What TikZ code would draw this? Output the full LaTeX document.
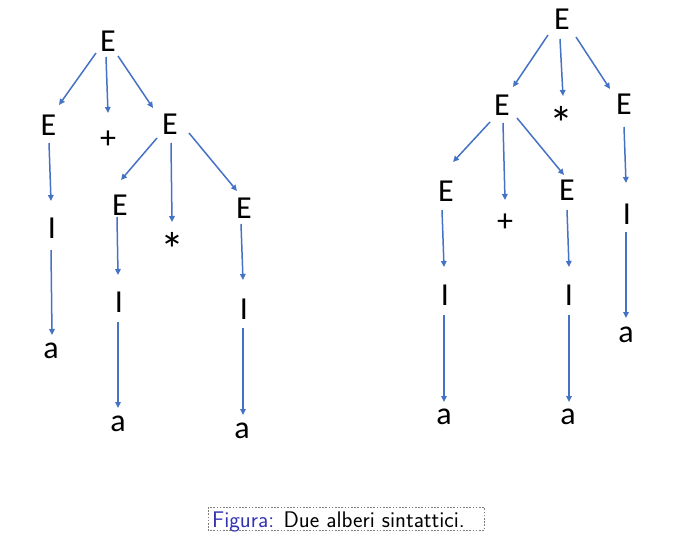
\documentclass[tikz,border=0pt]{standalone}
\usepackage{fontspec}
\newfontfamily\labfont{Carlito}
\usetikzlibrary{arrows.meta}
\definecolor{arrblue}{HTML}{4472C4}
\definecolor{capblue}{RGB}{51,51,179}
\definecolor{framegray}{HTML}{7F7F7F}
\tikzset{
  sym/.style={inner sep=0pt, anchor=center, font=\labfont\fontsize{32}{38}\selectfont},
  bigstar/.style={sym, font=\labfont\fontsize{48}{54}\selectfont},
  arr/.style={draw=arrblue, line width=1.5pt, -{Triangle[length=6pt,width=5.5pt]}},
  capframe/.style={draw=framegray, line width=1pt, dash pattern=on 1.6pt off 1.6pt},
  captext/.style={inner sep=0pt, anchor=base west, font=\sffamily\fontsize{22.6}{27}\selectfont}
}
\begin{document}
\begin{tikzpicture}[x=1pt, y=-1pt]
\useasboundingbox (0,0) rectangle (687,535);
% ---------- left tree ----------
\node[sym] (Er) at (108,41) {E};
\node[sym] (E1) at (48.5,125) {E};
\node[sym] (plus1) at (108,140) {+};
\node[sym] (E2) at (170,124) {E};
\node[sym] (I1) at (52,228) {I};
\node[sym] (E3) at (120,205) {E};
\node[bigstar] (star1) at (172,249) {*};
\node[sym] (E4) at (244,208) {E};
\node[sym] (I2) at (119,302) {I};
\node[sym] (I3) at (244,309) {I};
\node[sym] (a1) at (51,351) {a};
\node[sym] (a2) at (118,424) {a};
\node[sym] (a3) at (242,431) {a};
\draw[arr] ([shift={(-12,12)}]Er.center) -- ([shift={(10.5,-20)}]E1.center);
\draw[arr] ([shift={(-2,16)}]Er.center) -- ([shift={(0,-27)}]plus1.center);
\draw[arr] ([shift={(10,15)}]Er.center) -- ([shift={(-17,-16)}]E2.center);
\draw[arr] ([shift={(0.5,18)}]E1.center) -- ([shift={(-1,-27)}]I1.center);
\draw[arr] ([shift={(-1,22)}]I1.center) -- ([shift={(1,-16)}]a1.center);
\draw[arr] ([shift={(-13,14)}]E2.center) -- ([shift={(1,-25)}]E3.center);
\draw[arr] ([shift={(1,19)}]E2.center) -- ([shift={(0,-27)}]star1.center);
\draw[arr] ([shift={(19,9)}]E2.center) -- ([shift={(-7,-17)}]E4.center);
\draw[arr] ([shift={(-3,12)}]E3.center) -- ([shift={(-1,-27)}]I2.center);
\draw[arr] ([shift={(-1,20)}]I2.center) -- ([shift={(0,-16)}]a2.center);
\draw[arr] ([shift={(-3,16)}]E4.center) -- ([shift={(-1,-29)}]I3.center);
\draw[arr] ([shift={(-1,19)}]I3.center) -- ([shift={(1,-16)}]a3.center);
% ---------- right tree ----------
\node[sym] (R) at (562,19) {E};
\node[sym] (RE1) at (502,105) {E};
\node[bigstar] (star2) at (561,123) {*};
\node[sym] (RE2) at (624,104) {E};
\node[sym] (RE3) at (446,191) {E};
\node[sym] (plus2) at (505,223) {+};
\node[sym] (RE4) at (567,190) {E};
\node[sym] (RI1) at (627,214) {I};
\node[sym] (RI2) at (445,295) {I};
\node[sym] (RI3) at (569,295) {I};
\node[sym] (Ra1) at (626,335) {a};
\node[sym] (Ra2) at (444,417) {a};
\node[sym] (Ra3) at (568,417) {a};
\draw[arr] ([shift={(-14,16)}]R.center) -- ([shift={(11,-18)}]RE1.center);
\draw[arr] ([shift={(-2,20)}]R.center) -- ([shift={(2,-27)}]star2.center);
\draw[arr] ([shift={(14,18)}]R.center) -- ([shift={(-14,-15)}]RE2.center);
\draw[arr] ([shift={(-12,17)}]RE1.center) -- ([shift={(7,-29)}]RE3.center);
\draw[arr] ([shift={(1,18)}]RE1.center) -- ([shift={(0,-23)}]plus2.center);
\draw[arr] ([shift={(15,13)}]RE1.center) -- ([shift={(-3,-15)}]RE4.center);
\draw[arr] ([shift={(0,23)}]RE2.center) -- ([shift={(-1,-31)}]RI1.center);
\draw[arr] ([shift={(-4,19)}]RE3.center) -- ([shift={(-1,-28)}]RI2.center);
\draw[arr] ([shift={(0,20)}]RE4.center) -- ([shift={(0,-28)}]RI3.center);
\draw[arr] ([shift={(-1,18)}]RI1.center) -- ([shift={(0,-17)}]Ra1.center);
\draw[arr] ([shift={(-1,20)}]RI2.center) -- ([shift={(0,-15)}]Ra2.center);
\draw[arr] ([shift={(0,20)}]RI3.center) -- ([shift={(1,-15)}]Ra3.center);
% ---------- caption ----------
\draw[capframe] (208,507) rectangle (484,530.5);
\node[captext] (cap) at (212,527) {\textcolor{capblue}{Figura:} Due alberi sintattici.};
\end{tikzpicture}
\end{document}
